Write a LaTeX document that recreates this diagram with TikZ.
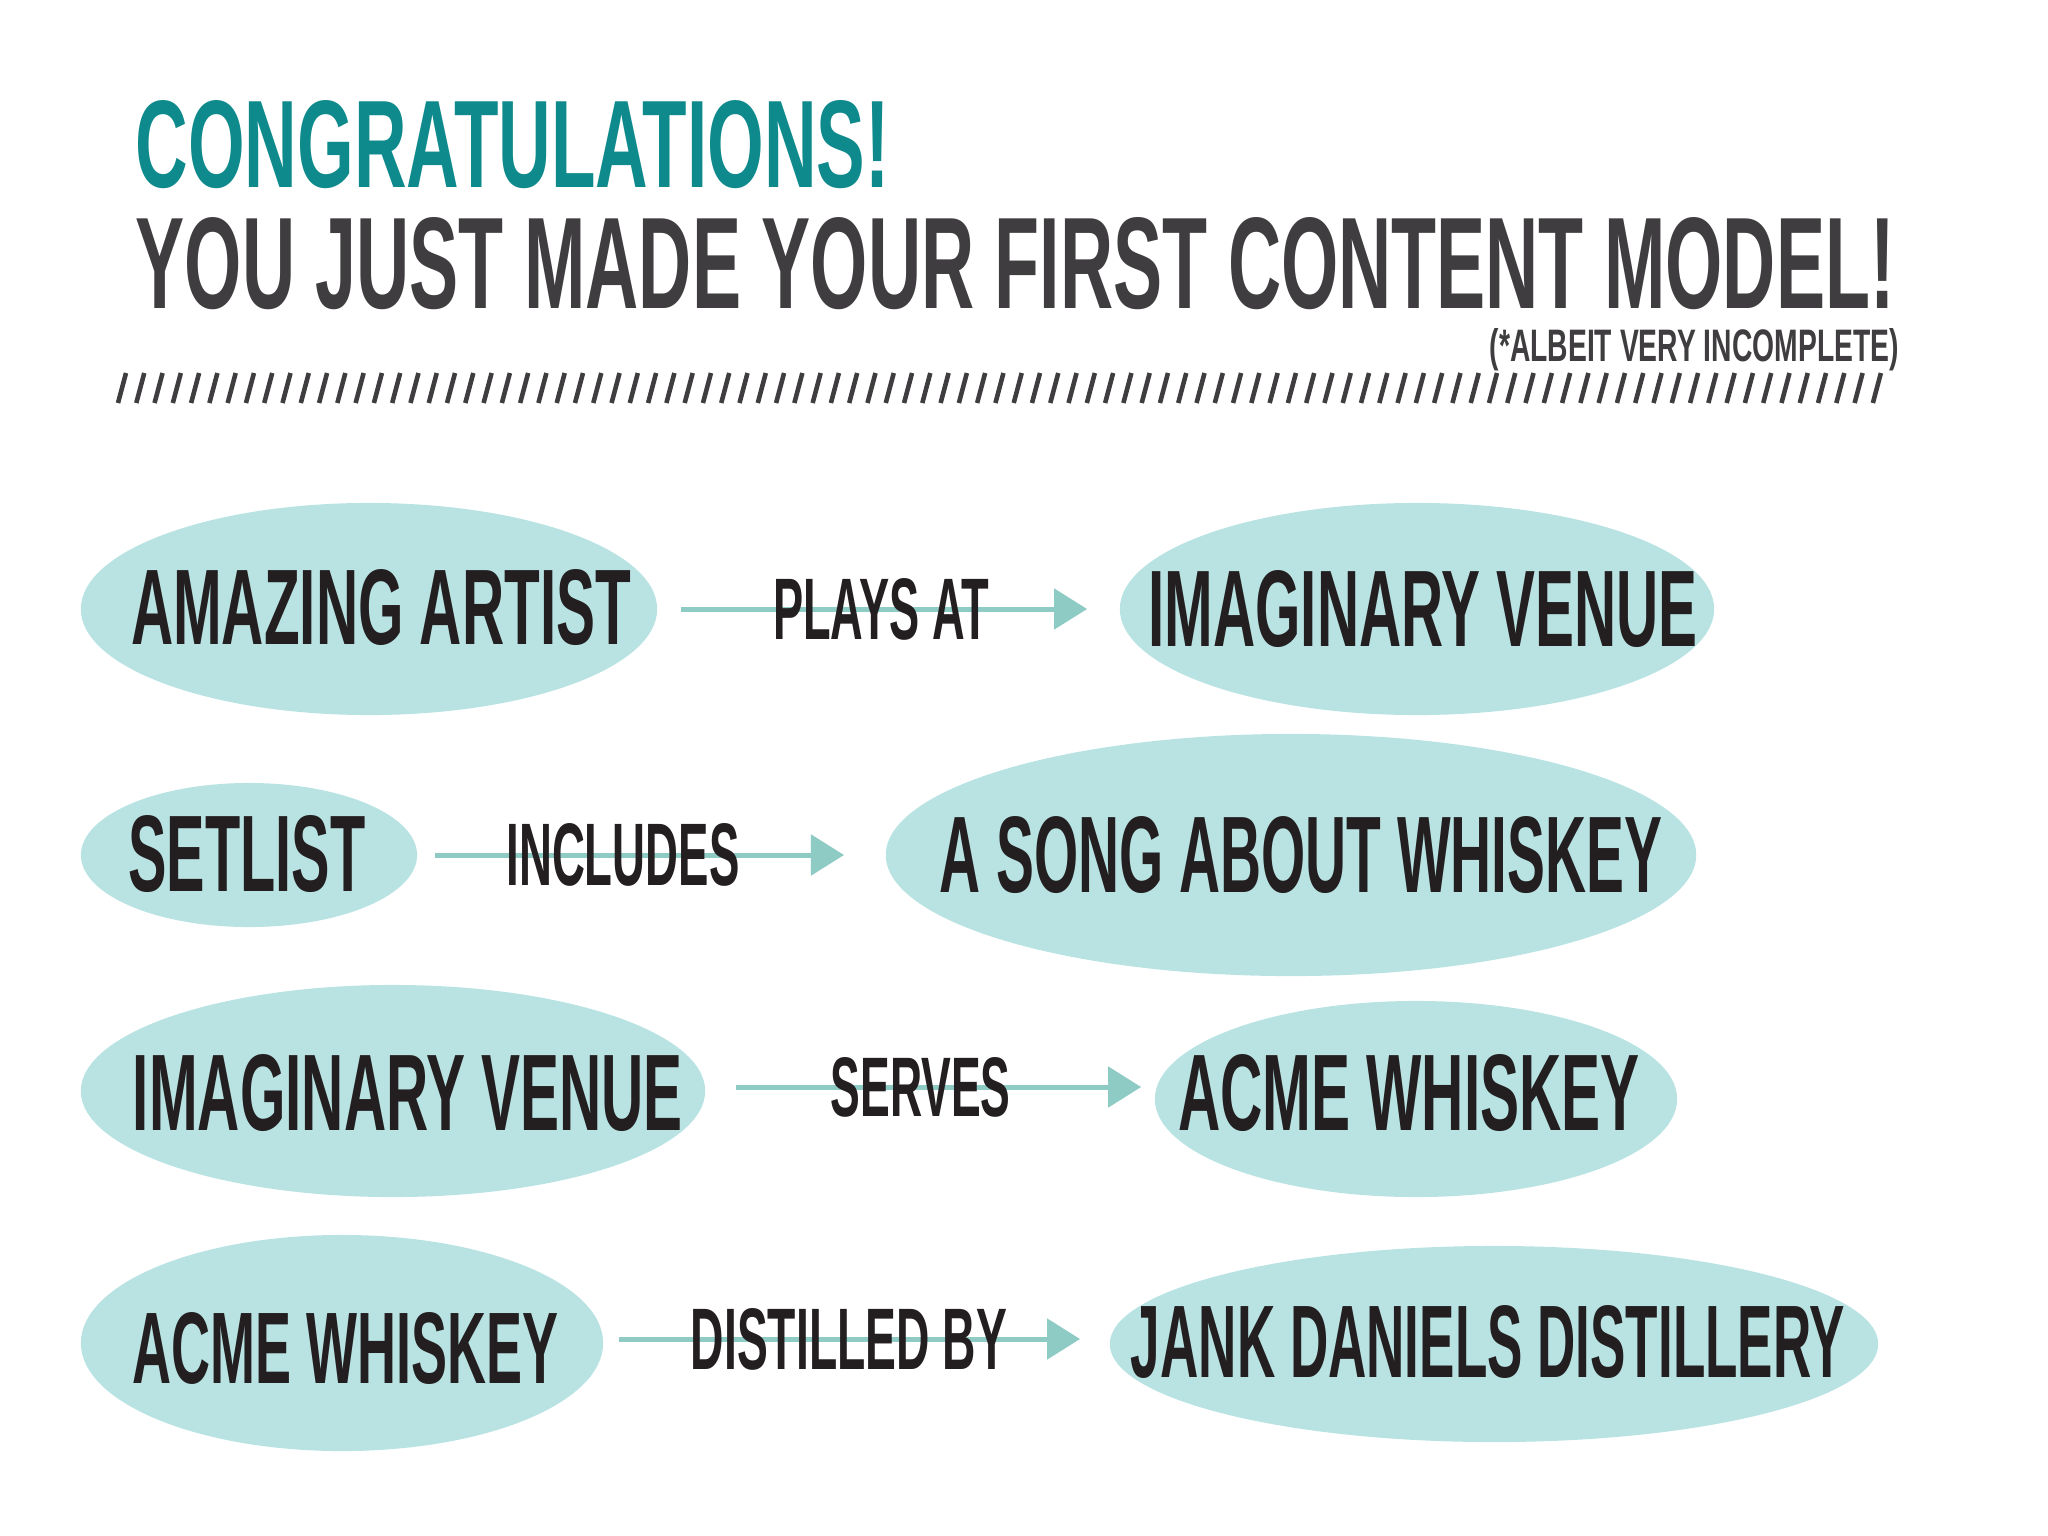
\documentclass[tikz,border=0pt]{standalone}
\usepackage{fontspec}
\usepackage{graphicx}
\usetikzlibrary{arrows.meta,shapes.geometric}
\newfontfamily\headfont{Liberation Sans}
\newlength\pxu
\setlength\pxu{0.01cm}
\newcommand\fitbox[3]{\resizebox{#1\pxu}{#2\pxu}{\headfont\bfseries #3}}
\definecolor{teal1}{HTML}{0F8A8C}
\definecolor{dgray}{HTML}{3F3D3F}
\definecolor{ink}{HTML}{231F20}
\definecolor{blobc}{HTML}{B9E3E3}
\definecolor{arrowc}{HTML}{8FCBC5}
\tikzset{
  blob/.style={ellipse, fill=blobc, draw=none, inner sep=0pt},
  ntext/.style={inner sep=0pt, text=ink, anchor=center},
  conn/.style={draw=arrowc, line width=1.42pt, -{Triangle[length=9.4pt,width=11.4pt]}},
  elabel/.style={inner sep=0pt, text=ink, anchor=center},
  hatch/.style={draw=dgray, line width=1.3pt}
}
\begin{document}
\begin{tikzpicture}[x=0.01cm,y=-0.01cm]
\useasboundingbox[fill=white] (0,0) rectangle (2048,1536);

% titles
\node[inner sep=0pt, anchor=south west, text=teal1] (t1) at (135,189) {\fitbox{754}{87}{CONGRATULATIONS!}};
\node[inner sep=0pt, anchor=south west, text=dgray] (t2) at (135,310) {\fitbox{1759}{91}{YOU JUST MADE YOUR FIRST CONTENT MODEL!}};
\node[inner sep=0pt, anchor=base west, text=dgray] (t3) at (1489,361) {\fitbox{409}{33}{(*ALBEIT VERY INCOMPLETE)}};

% hatch rule
\foreach \i in {0,...,96} {
  \draw[hatch] ({118+\i*18.28},403) -- ({126+\i*18.28},373);
}

% ellipses
\node[blob, minimum width=5.76cm, minimum height=2.12cm] (e1) at (369,609) {};
\node[blob, minimum width=5.94cm, minimum height=2.12cm] (e2) at (1417,609) {};
\node[blob, minimum width=3.36cm, minimum height=1.44cm] (e3) at (249,855) {};
\node[blob, minimum width=8.10cm, minimum height=2.42cm] (e4) at (1291,855) {};
\node[blob, minimum width=6.24cm, minimum height=2.12cm] (e5) at (393,1091) {};
\node[blob, minimum width=5.22cm, minimum height=1.96cm] (e6) at (1416,1099) {};
\node[blob, minimum width=5.22cm, minimum height=2.16cm] (e7) at (342,1343) {};
\node[blob, minimum width=7.68cm, minimum height=1.96cm] (e8) at (1494,1344) {};

% node texts
\node[ntext] (n1) at (381,608) {\fitbox{500}{75}{AMAZING ARTIST}};
\node[ntext] (n2) at (1423,609) {\fitbox{549}{76}{IMAGINARY VENUE}};
\node[ntext] (n3) at (247,854) {\fitbox{237}{76}{SETLIST}};
\node[ntext] (n4) at (1301,855) {\fitbox{723}{76}{A SONG ABOUT WHISKEY}};
\node[ntext] (n5) at (408,1093) {\fitbox{550}{76}{IMAGINARY VENUE}};
\node[ntext] (n6) at (1409,1093) {\fitbox{462}{76}{ACME WHISKEY}};
\node[ntext] (n7) at (346,1348) {\fitbox{426}{71}{ACME WHISKEY}};
\node[ntext] (n8) at (1488,1342) {\fitbox{714}{72}{JANK DANIELS DISTILLERY}};

% connectors
\draw[conn, shorten <=0.23cm, shorten >=0.32cm] (e1) -- (e1 -| e2.west)
  node[elabel, pos=0.484] (l1) {\fitbox{216}{61}{PLAYS AT}};
\draw[conn, shorten <=0.17cm, shorten >=0.41cm] (e3) -- (e3 -| e4.west)
  node[elabel, pos=0.439] (l2) {\fitbox{233}{62}{INCLUDES}};
\draw[conn, shorten <=0.30cm, shorten >=0.13cm] ([yshift=0.04cm]e5.east) -- ([yshift=0.04cm]e5.east -| e6.west)
  node[elabel, pos=0.479] (l3) {\fitbox{180}{59}{SERVES}};
\draw[conn, shorten <=0.15cm, shorten >=0.29cm] ([yshift=0.04cm]e7.east) -- ([yshift=0.04cm]e7.east -| e8.west)
  node[elabel, pos=0.485] (l4) {\fitbox{316}{61}{DISTILLED BY}};
\end{tikzpicture}
\end{document}
